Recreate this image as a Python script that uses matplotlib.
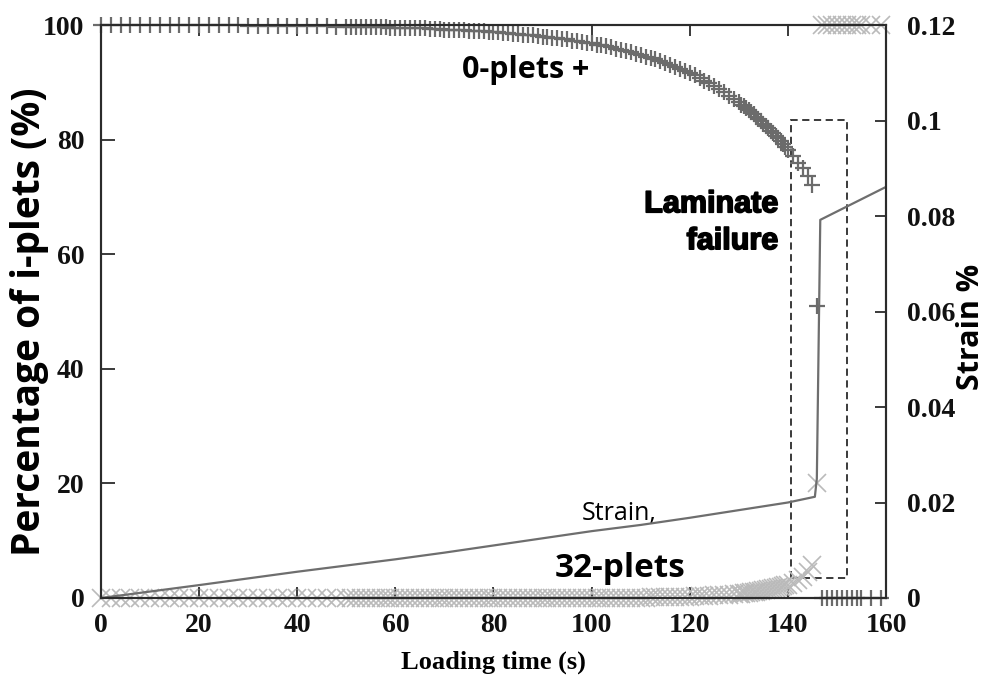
import matplotlib
matplotlib.use("Agg")
from matplotlib import pyplot as plt
from matplotlib.patches import Rectangle
from matplotlib import patheffects

# loading time (s) at which the i-plet fractions were sampled
time_pre = [0, 2, 4, 6, 8, 10, 12, 14, 16, 18, 20, 22, 24, 26, 28, 30, 32, 34, 36, 38, 40,
            42, 44, 46, 48,
            50, 51, 52, 53, 54, 55, 56, 57, 58, 59, 60, 61, 62, 63, 64, 65, 66, 67, 68, 69,
            70, 71, 72, 73, 74, 75, 76, 77, 78, 79, 80, 81, 82, 83, 84, 85, 86, 87, 88, 89,
            90, 91, 92, 93, 94, 95, 96, 97, 98, 99, 100, 101, 102, 103, 104, 105, 106, 107,
            108, 109, 110, 111, 112, 113, 114, 115, 116, 117, 118, 119, 120, 121, 122, 123,
            124, 125, 126, 127, 128, 129,
            130, 130.5, 131, 131.5, 132, 132.5, 133, 133.5, 134, 134.5, 135, 135.5, 136,
            136.5, 137, 137.5, 138, 138.5, 139, 139.5, 140,
            141, 142, 143, 144, 145, 146]

# 0-plets (%) before failure
zero_plets_pre = [100.0, 100.0, 100.0, 100.0, 100.0, 100.0, 100.0, 100.0, 100.0, 100.0, 100.0,
                  100.0, 100.0, 100.0, 100.0, 99.9, 99.9, 99.9, 99.9, 99.8, 99.8,
                  99.8, 99.8, 99.8, 99.7,
                  99.7, 99.7, 99.7, 99.7, 99.6, 99.6, 99.6, 99.6, 99.6, 99.5, 99.5, 99.5,
                  99.5, 99.4, 99.4, 99.4, 99.4, 99.3, 99.3, 99.3,
                  99.2, 99.2, 99.2, 99.1, 99.1, 99.0, 99.0, 98.9, 98.9, 98.8, 98.8, 98.7,
                  98.6, 98.6, 98.5, 98.4, 98.3, 98.3, 98.2, 98.1,
                  98.0, 97.9, 97.8, 97.7, 97.6, 97.5, 97.3, 97.2, 97.1, 96.9, 96.8, 96.6,
                  96.5, 96.3, 96.1, 95.9, 95.7, 95.5,
                  95.3, 95.0, 94.8, 94.5, 94.3, 94.0, 93.7, 93.4, 93.1, 92.7, 92.4, 92.0,
                  91.6, 91.2, 90.8, 90.3,
                  89.8, 89.3, 88.8, 88.3, 87.7, 87.1,
                  86.5, 86.1, 85.8, 85.5, 85.1, 84.8, 84.4, 84.0, 83.6, 83.2, 82.8, 82.4,
                  82.0, 81.5, 81.1, 80.6, 80.2, 79.7, 79.2, 78.7, 78.2,
                  77.1, 76.0, 75.0, 73.6, 72.0, 51.0]

# 32-plets (%) before failure
plets32_pre = [0.0] * 25 + [0.0] * 60 + [
    0.05, 0.05, 0.1, 0.1, 0.1, 0.15, 0.15, 0.2, 0.2, 0.2,
    0.25, 0.3, 0.3, 0.35, 0.4, 0.45, 0.5, 0.55, 0.6, 0.65,
    0.7, 0.75, 0.8, 0.85, 0.9, 1.0, 1.05, 1.1, 1.2, 1.25, 1.35, 1.4, 1.5, 1.6, 1.7,
    1.8, 1.9, 2.0, 2.1, 2.2, 2.3,
    2.7, 3.1, 3.7, 4.5, 5.8, 20.0]

# after laminate failure
time_post = [147, 148, 149, 150, 151, 152, 153, 154, 155, 157, 159]
zero_plets_post = [0, 0, 0, 0, 0, 0, 0, 0, 0, 0, 0]
plets32_post = [100, 100, 100, 100, 100, 100, 100, 100, 100, 100, 100]

# strain curve
strain_time = [0, 10, 20, 30, 40, 50, 60, 70, 80, 90, 100, 110, 120, 130, 140, 145.5,
               145.9, 146.6, 160]
strain = [0.0, 0.00135, 0.0027, 0.0041, 0.0055, 0.0068, 0.0081, 0.0095, 0.0110, 0.0125,
          0.0140, 0.0153, 0.0168, 0.0184, 0.0200, 0.0212, 0.025, 0.0792, 0.0861]

serif = "Liberation Serif"
sans = "Open Sans"
dark = "#2b2b2b"

fig = plt.figure(figsize=(9.86, 6.77), dpi=100)
ax = fig.add_axes([0.1024, 0.1167, 0.7962, 0.8463])
ax2 = ax.twinx()

plus_kw = dict(linestyle="none", marker="+", markersize=12, markeredgewidth=1.6,
               color="#6b6b6b", clip_on=False)
x_kw = dict(linestyle="none", marker="x", markersize=13, markeredgewidth=1.2,
            color="#bababa", clip_on=False)

ax.plot(time_pre, plets32_pre, **x_kw)
ax.plot(time_post, plets32_post, **x_kw)
ax.plot(time_pre, zero_plets_pre, **plus_kw)
ax.plot(time_post, zero_plets_post, **plus_kw)

ax2.plot(strain_time, strain, color="#6e6e6e", linewidth=1.6)

ax.add_patch(Rectangle((140.7, 3.5), 11.3, 79.9, fill=False, edgecolor=dark,
                       linewidth=1.3, linestyle=(0, (4, 2.5))))

ax.set_xlim(0, 160)
ax.set_ylim(0, 100)
ax2.set_ylim(0, 0.12)
ax.set_xticks([0, 20, 40, 60, 80, 100, 120, 140, 160])
ax.set_yticks([0, 20, 40, 60, 80, 100])
ax2.set_yticks([0, 0.02, 0.04, 0.06, 0.08, 0.1, 0.12])
ax2.set_yticklabels(["0", "0.02", "0.04", "0.06", "0.08", "0.1", "0.12"])

for a in (ax, ax2):
    for s in a.spines.values():
        s.set_color(dark)
        s.set_linewidth(1.5)

ax.tick_params(axis="x", direction="in", length=8, width=1.3, color=dark, top=True, pad=11)
ax.tick_params(axis="y", direction="in", length=10, width=1.3, color=dark, pad=12)
ax2.tick_params(axis="y", direction="in", length=8, width=1.3, color=dark, pad=15)

for lab in ax.get_xticklabels() + ax.get_yticklabels() + ax2.get_yticklabels():
    lab.set_fontfamily(serif)
    lab.set_fontweight("bold")
    lab.set_fontsize(20)
    lab.set_color("#111111")

ax.set_ylabel("Percentage of i-plets (%)", fontfamily=sans, fontweight="bold", fontsize=28)
ax.yaxis.set_label_coords(-0.066, 0.483)
ax2.set_ylabel("Strain %", fontfamily=sans, fontweight="bold", fontsize=22)
ax2.yaxis.set_label_coords(1.089, 0.473)
ax.set_xlabel("Loading time (s)", fontfamily=serif, fontweight="bold", fontsize=19,
              labelpad=9)

ax.text(86.6, 92.2, "0-plets +", fontfamily=sans, fontweight="bold", fontsize=22,
        ha="center", va="center")
ax.text(105.8, 5.2, "32-plets", fontfamily=sans, fontweight="bold", fontsize=24,
        ha="center", va="center")
ax.text(98.0, 14.8, "Strain,", fontfamily=sans, fontsize=18, ha="left", va="center")
ax.text(138.0, 65.5, "Laminate\nfailure", fontfamily="Liberation Sans", fontweight="bold",
        fontsize=22, ha="right", va="center", multialignment="right", linespacing=1.3,
        path_effects=[patheffects.withStroke(linewidth=1.2, foreground="black")])

fig.savefig("out.png", dpi=100)
